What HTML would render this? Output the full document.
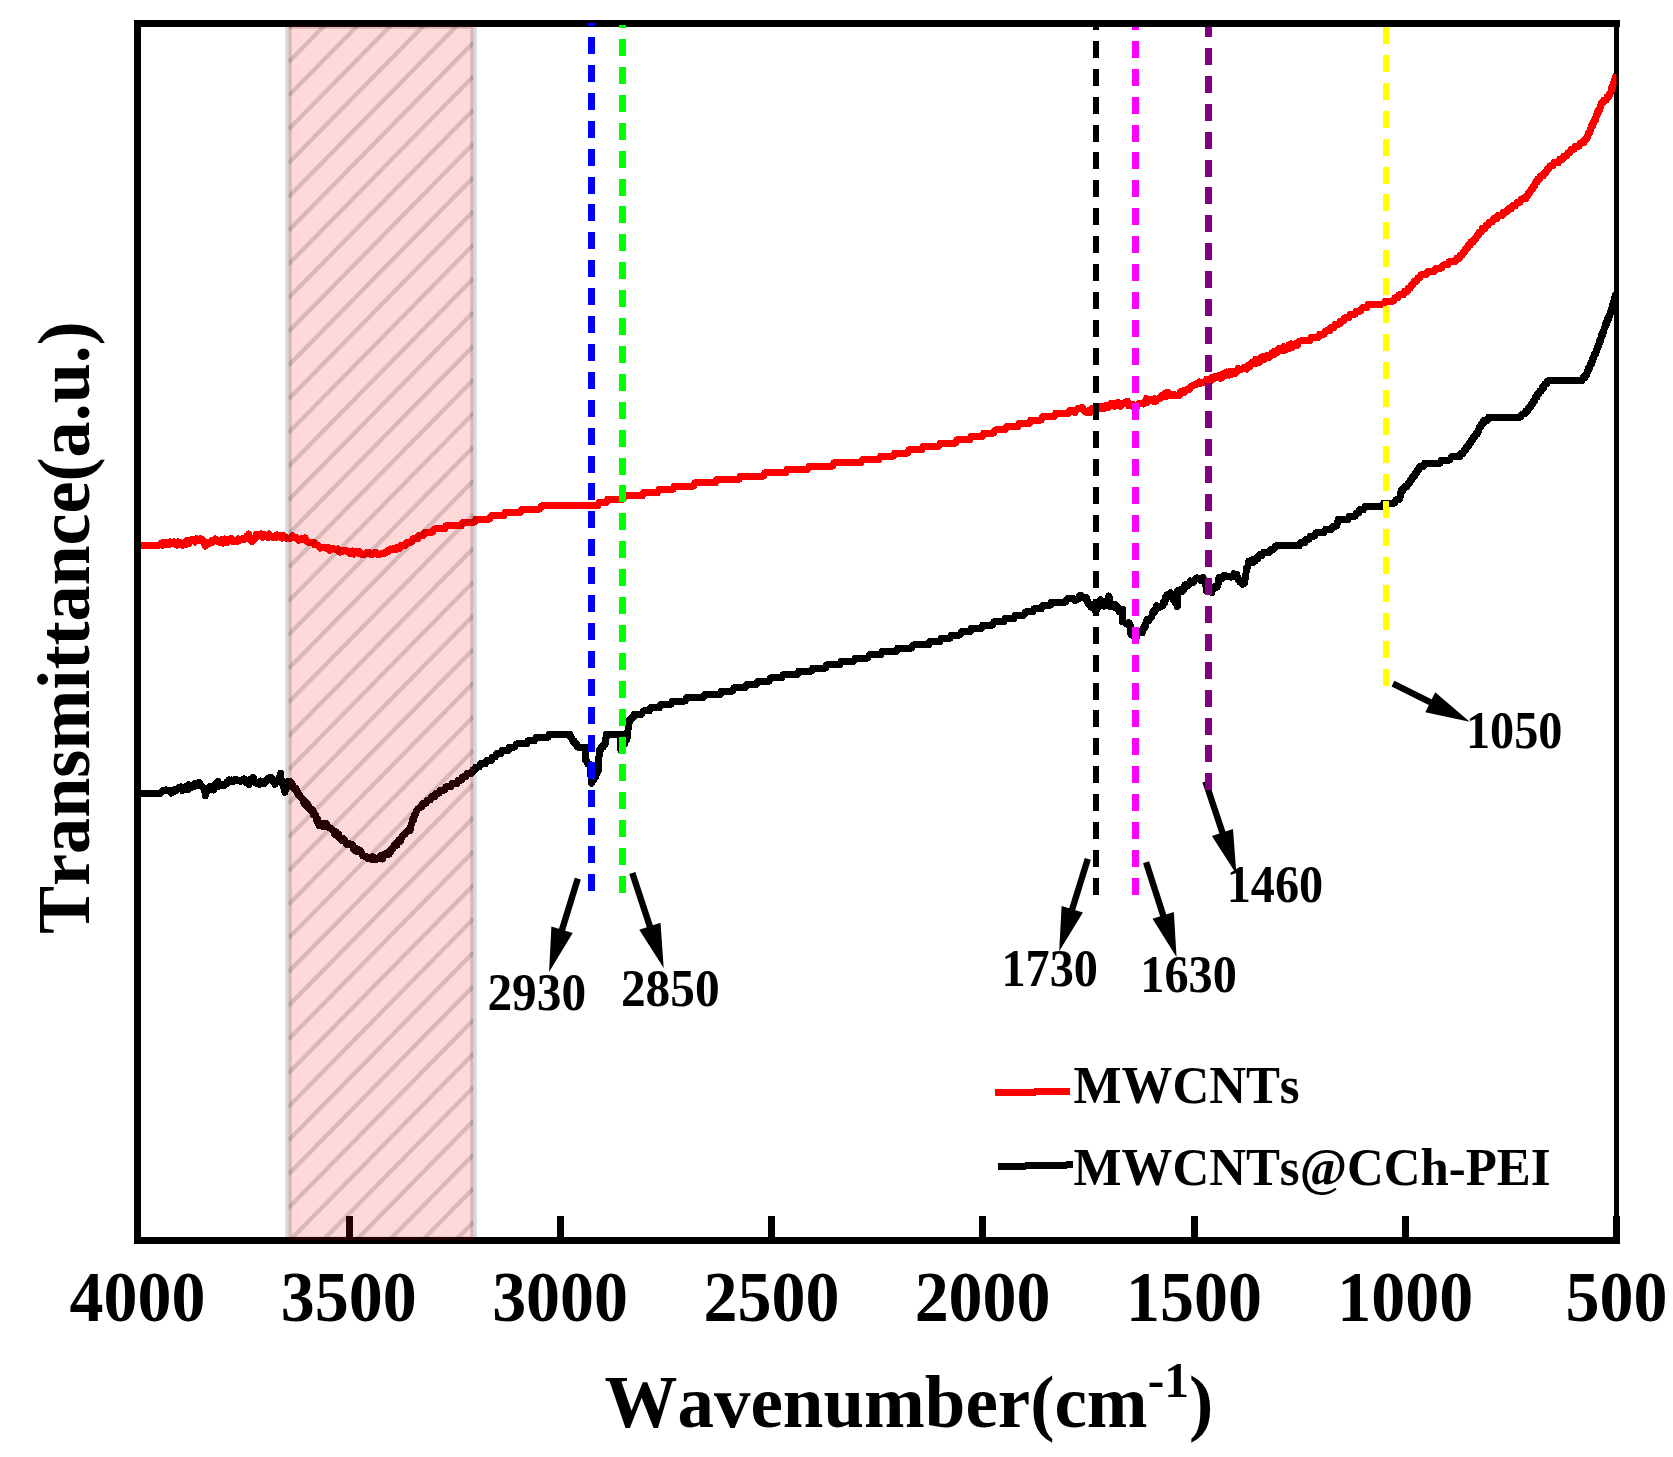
<!DOCTYPE html>
<html lang="en"><head><meta charset="utf-8"><title>FTIR spectra</title>
<style>html,body{margin:0;padding:0;background:#fff}svg{display:block}</style></head>
<body>
<svg width="1673" height="1457" viewBox="0 0 1673 1457">
<defs><clipPath id="plot"><rect x="141" y="27" width="1475.5" height="1210"/></clipPath><clipPath id="band"><rect x="288.5" y="25.5" width="185.0" height="1214.5"/></clipPath></defs>
<rect width="1673" height="1457" fill="#fff"/>
<g shape-rendering="crispEdges" fill="#000">
<rect x="134" y="20" width="1486" height="7"/>
<rect x="134" y="20" width="7" height="1224"/>
<rect x="134" y="1237" width="1486" height="7"/>
<rect x="1614" y="20" width="5" height="1224"/>
<rect x="134.0" y="1216" width="7" height="24"/>
<rect x="346.0" y="1216" width="7" height="24"/>
<rect x="557.0" y="1216" width="7" height="24"/>
<rect x="768.0" y="1216" width="7" height="24"/>
<rect x="979.0" y="1216" width="7" height="24"/>
<rect x="1190.5" y="1216" width="7" height="24"/>
<rect x="1402.0" y="1216" width="7" height="24"/>
<rect x="1613.0" y="1216" width="7" height="24"/>
</g>
<g clip-path="url(#plot)" fill="none" stroke-linejoin="round" stroke-linecap="butt" shape-rendering="crispEdges">
<polyline points="141.0,793.4 142.4,793.4 143.7,793.4 145.1,793.4 146.5,793.4 147.8,793.4 149.2,793.4 150.6,793.4 151.9,793.4 153.3,793.4 154.6,793.4 156.0,793.4 157.4,793.4 158.7,793.4 160.1,793.4 161.5,791.6 162.9,790.6 164.3,790.8 165.7,789.9 167.1,790.6 168.4,791.0 169.8,790.8 171.2,793.2 172.6,790.4 174.0,791.4 175.4,789.4 176.8,790.1 178.2,787.9 179.6,788.8 181.0,787.0 182.4,790.6 183.8,789.2 185.2,786.8 186.4,787.8 187.6,789.8 188.9,784.7 190.1,788.1 191.3,785.4 192.5,785.2 193.7,786.6 194.9,783.5 196.2,783.6 197.4,784.1 198.6,785.2 199.6,782.5 200.6,786.1 201.5,786.3 202.5,786.8 203.0,786.9 203.4,788.0 203.9,787.8 204.4,789.7 204.8,790.8 205.3,795.9 205.9,791.9 206.4,790.1 206.9,788.4 207.5,791.4 208.1,790.3 208.6,787.9 209.9,786.5 211.1,787.1 212.4,788.2 213.7,790.0 214.2,786.9 214.8,787.1 215.3,784.7 215.9,787.2 216.4,785.8 217.0,782.1 218.0,781.4 219.0,786.4 220.0,783.8 221.0,785.1 222.0,784.1 223.1,785.5 224.2,785.4 225.3,784.8 226.5,782.4 227.6,783.4 228.7,779.9 230.1,781.3 231.6,780.1 233.0,781.8 234.5,779.6 235.9,779.4 237.4,780.8 238.8,780.3 240.1,781.3 241.4,780.1 242.7,780.4 244.0,778.9 245.0,780.5 246.0,782.6 247.0,781.1 248.0,782.0 249.0,784.8 250.0,779.3 251.0,781.6 252.0,780.3 253.3,777.4 254.6,782.4 255.8,783.2 257.1,782.2 258.4,783.3 259.6,784.2 260.9,781.0 262.2,783.6 263.2,782.6 264.1,783.5 265.1,782.3 266.0,781.5 267.0,779.2 267.9,780.0 268.9,777.8 269.7,779.0 270.6,777.5 271.4,777.5 272.2,779.2 273.1,781.6 273.9,781.3 274.9,784.3 275.8,781.7 276.8,781.0 277.7,779.9 278.7,779.2 279.6,777.0 280.6,773.2 281.0,779.0 281.4,780.1 281.7,780.1 282.1,781.7 282.5,783.7 282.9,781.8 283.3,786.9 283.7,785.5 284.0,785.9 284.4,788.3 284.8,792.3 285.2,788.0 285.6,789.6 286.0,789.6 286.5,785.6 286.9,783.6 287.3,782.8 287.7,782.6 288.1,781.7 288.9,782.0 289.8,783.2 290.6,781.7 291.5,783.1 292.3,784.7 293.2,787.9 294.0,787.1 294.9,789.4 295.7,788.1 296.5,789.3 297.2,791.3 298.0,794.1 298.7,795.3 299.5,796.3 300.2,795.7 301.0,797.7 301.7,798.6 302.5,799.6 303.2,799.2 304.0,803.6 304.9,801.5 305.9,805.9 306.8,806.6 307.7,803.5 308.7,806.4 309.6,808.9 310.5,810.5 311.5,809.1 312.4,809.3 313.0,810.2 313.6,814.7 314.2,812.7 314.8,815.5 315.4,814.8 316.1,817.7 316.7,820.8 317.3,818.4 317.9,822.7 318.5,822.5 319.1,825.4 320.4,824.9 321.8,823.2 323.1,826.5 324.5,825.0 325.8,823.3 326.9,824.1 328.0,827.2 329.1,828.0 330.2,828.2 331.4,828.4 332.5,830.2 333.6,831.0 334.7,834.3 335.8,831.5 336.9,835.6 337.9,836.9 338.9,834.5 340.0,838.9 341.1,838.8 342.1,840.5 343.1,838.6 344.2,839.8 345.2,840.8 346.3,844.3 347.4,843.3 348.4,843.1 349.4,844.3 350.5,844.4 351.6,844.3 352.6,845.3 353.7,849.3 354.8,847.6 355.9,851.2 357.0,849.0 358.2,849.8 359.3,851.6 360.4,850.9 361.5,852.5 362.6,855.8 363.9,856.1 365.1,856.4 366.4,856.3 367.6,858.1 368.9,858.9 370.2,857.8 371.4,859.1 372.7,856.8 374.1,859.6 375.6,858.1 377.0,859.2 378.4,858.5 379.8,856.7 381.3,855.4 382.7,859.1 383.8,854.7 384.8,855.4 385.9,854.0 386.9,853.0 387.9,854.1 389.0,854.3 390.1,850.3 391.1,851.2 391.9,848.6 392.8,848.7 393.6,847.0 394.4,845.0 395.2,844.0 396.1,843.2 396.9,845.2 397.7,842.4 398.6,840.2 399.4,842.2 400.4,841.6 401.4,838.2 402.4,835.8 403.4,835.0 404.4,833.6 405.5,833.7 406.5,831.6 407.5,831.3 408.5,830.3 409.5,830.7 409.9,830.9 410.4,829.0 410.8,826.3 411.2,825.0 411.6,824.3 412.1,822.4 412.5,821.0 412.9,818.5 413.4,818.2 413.8,820.0 414.2,815.1 414.6,815.5 415.1,814.8 415.5,814.6 416.4,810.7 417.3,809.8 418.2,808.7 419.1,808.3 420.0,807.4 420.9,806.6 421.8,806.6 422.9,803.3 423.9,803.3 425.0,803.3 426.1,803.3 427.2,800.0 428.2,800.0 429.3,800.0 430.4,800.0 431.4,796.7 432.5,796.7 433.6,796.7 434.7,796.7 435.7,793.4 436.8,793.4 437.9,793.4 439.0,793.4 440.2,790.1 441.3,790.1 442.4,790.1 443.5,790.1 444.7,790.1 445.8,786.8 446.9,786.8 448.1,786.8 449.4,786.8 450.6,786.8 451.9,783.5 453.1,783.5 454.4,783.5 455.6,783.5 456.9,783.5 458.0,780.2 459.1,780.2 460.2,780.2 461.4,780.2 462.5,776.9 463.6,776.9 464.7,776.9 465.8,776.9 466.9,773.6 468.0,773.6 469.1,773.6 470.3,773.6 471.4,773.6 472.5,770.3 473.6,770.3 474.7,770.3 475.8,767.0 477.0,767.0 478.1,767.0 479.2,767.0 480.3,763.7 481.6,763.7 482.8,763.7 484.1,763.7 485.4,763.7 486.6,760.4 487.9,760.4 489.1,760.4 490.4,760.4 491.4,760.4 492.3,757.1 493.3,757.1 494.2,757.1 495.2,757.1 496.1,753.8 497.1,753.8 498.4,753.8 499.6,753.8 500.9,753.8 502.1,750.5 503.4,750.5 504.6,750.5 505.9,750.5 507.1,750.5 508.2,750.5 509.4,747.2 510.5,747.2 511.9,747.2 513.4,747.2 514.8,747.2 516.2,743.9 517.6,743.9 519.1,743.9 520.5,743.9 521.8,743.9 523.0,743.9 524.2,743.9 525.5,743.9 526.8,743.9 528.0,740.6 529.2,740.6 530.5,740.6 531.9,740.6 533.3,740.6 534.7,740.6 536.1,737.3 537.5,737.3 538.9,737.3 540.2,737.3 541.5,737.3 542.8,737.3 544.1,737.3 545.4,737.3 546.7,737.3 548.0,737.3 549.3,734.0 550.6,734.0 552.3,734.0 553.7,734.0 555.1,734.0 556.5,734.0 557.9,734.0 559.3,734.0 560.6,734.0 562.0,734.0 563.4,734.0 564.8,734.0 566.2,734.0 567.6,734.0 569.0,734.0 569.8,734.0 570.7,737.3 571.5,737.3 572.4,740.6 573.2,740.6 574.0,740.6 574.9,743.9 575.7,743.9 576.6,743.9 577.4,747.2 578.9,747.2 580.4,747.2 581.9,747.2 583.4,747.2 584.9,747.2 585.0,747.2 585.1,750.5 585.2,750.5 585.3,753.8 585.3,753.8 585.4,753.8 585.5,757.1 585.6,757.1 585.7,760.4 585.8,760.4 586.6,760.4 587.5,763.7 588.3,763.7 589.2,763.7 590.0,767.0 590.1,767.0 590.2,767.0 590.4,770.3 590.5,770.3 590.6,773.6 590.7,773.6 590.9,773.6 591.0,776.9 591.1,776.9 591.2,780.2 591.4,780.2 591.5,780.2 591.6,783.5 592.3,780.2 592.9,780.2 593.6,780.2 594.3,776.9 595.0,776.9 595.6,776.9 596.3,773.6 597.0,773.6 597.6,770.3 598.3,770.3 598.4,770.3 598.4,767.0 598.5,767.0 598.5,763.7 598.6,763.7 598.7,763.7 598.7,760.4 598.8,760.4 598.8,757.1 598.9,757.1 599.0,757.1 599.0,753.8 599.1,753.8 599.1,750.5 599.2,750.5 600.2,750.5 601.1,747.2 602.1,747.2 603.1,747.2 604.0,743.9 605.0,743.9 605.2,743.9 605.5,740.6 605.7,740.6 606.0,737.3 606.2,737.3 606.5,737.3 606.7,734.0 608.1,734.0 609.5,734.0 611.0,734.0 612.4,734.0 613.8,734.0 615.2,734.0 616.6,734.0 618.1,734.0 619.5,734.0 620.9,734.0 620.9,737.3 620.9,737.3 620.9,737.3 620.9,740.6 620.9,740.6 620.9,743.9 620.9,743.9 620.9,743.9 620.9,747.2 620.9,747.2 620.9,750.5 620.9,750.5 621.5,750.5 622.1,747.2 622.7,747.2 623.3,743.9 623.9,743.9 624.6,743.9 625.2,740.6 625.8,740.6 626.4,740.6 627.0,737.3 627.6,737.3 627.7,734.0 627.8,734.0 627.8,734.0 627.9,730.7 628.0,730.7 628.1,727.4 628.2,727.4 628.3,727.4 628.3,724.1 628.4,724.1 628.5,720.8 629.5,720.8 630.4,720.8 631.4,717.5 632.4,717.5 633.3,717.5 634.3,714.2 635.6,714.2 636.8,714.2 638.1,714.2 639.3,714.2 640.6,714.2 641.9,714.2 643.1,710.9 644.4,710.9 645.6,710.9 646.9,710.9 648.1,710.9 649.4,710.9 650.6,707.6 651.9,707.6 653.1,707.6 654.4,707.6 655.7,707.6 657.0,707.6 658.3,707.6 659.6,707.6 660.9,704.3 662.2,704.3 663.5,704.3 664.8,704.3 666.1,704.3 667.4,704.3 668.6,704.3 669.9,704.3 671.2,704.3 672.4,701.0 673.7,701.0 674.9,701.0 676.2,701.0 677.5,701.0 678.7,701.0 680.0,701.0 681.3,701.0 682.6,701.0 683.9,701.0 685.2,701.0 686.5,697.7 687.8,697.7 689.1,697.7 690.4,697.7 691.7,697.7 693.0,697.7 694.3,697.7 695.6,697.7 696.9,697.7 698.2,697.7 699.5,697.7 700.7,697.7 702.0,697.7 703.3,697.7 704.6,694.4 705.9,694.4 707.2,694.4 708.5,694.4 709.8,694.4 711.1,694.4 712.4,694.4 713.7,694.4 715.0,694.4 716.3,694.4 717.6,694.4 718.9,694.4 720.2,694.4 721.5,691.1 722.7,691.1 724.0,691.1 725.2,691.1 726.5,691.1 727.7,691.1 729.0,691.1 730.2,691.1 731.5,691.1 732.7,691.1 734.0,687.8 735.3,687.8 736.5,687.8 737.8,687.8 739.0,687.8 740.3,687.8 741.5,687.8 742.8,687.8 744.0,687.8 745.3,687.8 746.5,684.5 747.8,684.5 749.1,684.5 750.3,684.5 751.6,684.5 752.8,684.5 754.1,684.5 755.3,684.5 756.6,684.5 757.8,681.2 759.1,681.2 760.3,681.2 761.6,681.2 762.9,681.2 764.1,681.2 765.4,681.2 766.6,681.2 767.9,681.2 769.1,681.2 770.4,677.9 771.6,677.9 772.9,677.9 774.1,677.9 775.4,677.9 776.7,677.9 778.0,677.9 779.3,677.9 780.5,677.9 781.8,677.9 783.1,674.6 784.4,674.6 785.7,674.6 787.0,674.6 788.3,674.6 789.5,674.6 790.8,674.6 792.1,674.6 793.4,674.6 794.7,674.6 796.0,674.6 797.3,674.6 798.5,671.3 799.8,671.3 801.1,671.3 802.4,671.3 803.7,671.3 805.0,671.3 806.3,671.3 807.6,671.3 808.8,671.3 810.1,671.3 811.4,671.3 812.7,668.0 814.0,668.0 815.3,668.0 816.6,668.0 817.8,668.0 819.1,668.0 820.4,668.0 821.7,668.0 823.0,668.0 824.3,668.0 825.6,668.0 826.8,664.7 828.1,664.7 829.4,664.7 830.7,664.7 832.0,664.7 833.3,664.7 834.5,664.7 835.8,664.7 837.1,664.7 838.4,664.7 839.7,664.7 841.0,661.4 842.2,661.4 843.5,661.4 844.8,661.4 846.1,661.4 847.4,661.4 848.7,661.4 849.9,661.4 851.2,661.4 852.5,661.4 853.8,661.4 855.1,658.1 856.3,658.1 857.6,658.1 858.9,658.1 860.2,658.1 861.5,658.1 862.8,658.1 864.0,658.1 865.3,658.1 866.6,658.1 867.9,658.1 869.2,654.8 870.4,654.8 871.7,654.8 873.0,654.8 874.3,654.8 875.6,654.8 876.9,654.8 878.1,654.8 879.4,654.8 880.7,654.8 882.0,651.5 883.3,651.5 884.6,651.5 885.8,651.5 887.1,651.5 888.4,651.5 889.7,651.5 891.0,651.5 892.3,651.5 893.6,651.5 894.9,651.5 896.2,651.5 897.5,648.2 898.8,648.2 900.0,648.2 901.3,648.2 902.6,648.2 903.9,648.2 905.2,648.2 906.5,648.2 907.8,648.2 909.1,648.2 910.4,648.2 911.7,648.2 913.0,644.9 914.3,644.9 915.6,644.9 916.9,644.9 918.2,644.9 919.5,644.9 920.7,644.9 922.0,644.9 923.3,644.9 924.6,644.9 925.9,644.9 927.2,644.9 928.5,644.9 929.8,641.6 931.1,641.6 932.4,641.6 933.6,641.6 934.9,641.6 936.1,641.6 937.4,641.6 938.6,641.6 939.9,641.6 941.2,638.3 942.4,638.3 943.7,638.3 944.9,638.3 946.2,638.3 947.4,638.3 948.7,638.3 950.0,638.3 951.2,635.0 952.5,635.0 953.7,635.0 955.0,635.0 956.2,635.0 957.5,635.0 958.8,635.0 960.0,635.0 961.3,631.7 962.5,631.7 963.8,631.7 965.0,631.7 966.3,631.7 967.6,631.7 968.8,631.7 970.1,631.7 971.3,628.4 972.6,628.4 973.8,628.4 975.1,628.4 976.3,628.4 977.6,628.4 978.8,628.4 980.1,628.4 981.4,628.4 982.6,625.1 983.9,625.1 985.1,625.1 986.4,625.1 987.6,625.1 988.9,625.1 990.1,625.1 991.4,625.1 992.7,625.1 993.9,621.8 995.2,621.8 996.4,621.8 997.7,621.8 998.9,621.8 1000.2,621.8 1001.4,621.8 1002.7,621.8 1004.0,621.8 1005.2,618.5 1006.5,618.5 1007.7,618.5 1009.0,618.5 1010.2,618.5 1011.5,618.5 1012.7,618.5 1014.0,618.5 1015.2,615.2 1016.5,615.2 1017.8,615.2 1019.0,615.2 1020.3,615.2 1021.5,615.2 1022.8,615.2 1024.0,615.2 1025.3,611.9 1026.5,611.9 1027.8,611.9 1029.0,611.9 1030.3,611.9 1031.5,611.9 1032.8,611.9 1034.0,608.6 1035.3,608.6 1036.6,608.6 1037.8,608.6 1039.1,608.6 1040.3,608.6 1041.6,608.6 1042.8,605.3 1044.1,605.3 1045.3,605.3 1046.6,605.3 1047.8,605.3 1049.1,605.3 1050.3,605.3 1051.6,602.0 1052.8,602.0 1054.1,602.0 1055.4,602.0 1056.7,602.0 1058.0,602.0 1059.3,602.0 1060.6,602.0 1061.9,602.0 1063.2,602.0 1064.5,602.0 1065.9,602.0 1067.2,598.7 1068.5,598.7 1069.8,598.7 1071.1,598.7 1072.4,598.7 1073.7,598.7 1075.0,600.6 1076.5,599.8 1077.9,599.5 1079.4,595.4 1080.9,595.1 1082.3,597.8 1083.8,598.2 1084.6,597.4 1085.5,599.0 1086.3,597.5 1087.1,600.2 1088.0,603.6 1088.8,604.2 1089.8,605.4 1090.8,607.0 1091.8,604.9 1092.7,605.4 1093.7,606.6 1094.7,609.3 1095.7,611.1 1096.4,611.0 1097.1,608.8 1097.8,607.2 1098.6,606.4 1099.3,603.8 1100.0,603.0 1100.7,599.5 1101.8,603.7 1102.9,602.2 1104.0,606.2 1105.1,605.9 1105.7,603.2 1106.4,601.1 1107.0,600.4 1107.6,600.8 1108.3,599.8 1108.9,596.0 1109.2,597.3 1109.4,600.7 1109.7,602.4 1110.0,603.0 1110.3,603.7 1110.5,606.8 1110.8,605.6 1111.9,606.0 1113.0,605.7 1114.1,607.0 1115.2,604.6 1115.9,606.8 1116.7,606.2 1117.4,606.3 1118.2,607.4 1118.9,611.7 1120.8,610.9 1122.7,609.5 1122.7,609.6 1122.7,613.1 1122.7,615.2 1122.7,615.5 1122.7,616.2 1122.7,619.4 1122.7,621.9 1122.7,620.2 1122.7,620.8 1124.2,622.3 1125.7,623.0 1127.2,624.4 1128.7,622.5 1130.2,625.4 1130.3,626.6 1130.4,627.1 1130.6,627.2 1130.7,632.0 1130.8,630.6 1130.9,634.3 1132.0,632.6 1133.1,633.5 1134.1,636.8 1135.2,635.7 1136.3,637.7 1137.4,634.8 1138.5,632.6 1139.5,631.8 1140.6,631.8 1141.7,632.0 1142.8,632.4 1143.4,627.6 1144.0,627.4 1144.7,625.3 1145.3,627.4 1145.9,622.5 1146.5,620.9 1147.2,619.6 1147.8,619.8 1148.6,620.8 1149.5,619.5 1150.3,617.6 1151.1,617.5 1152.0,615.9 1152.8,612.0 1153.8,610.2 1154.7,612.2 1155.6,610.1 1156.6,605.7 1158.2,608.2 1159.8,606.6 1161.3,606.3 1162.9,605.8 1163.3,603.8 1163.7,601.8 1164.2,601.8 1164.6,600.8 1165.0,602.3 1165.4,597.3 1166.0,599.8 1166.6,595.2 1167.3,594.6 1167.9,595.4 1168.5,594.1 1169.5,593.5 1170.4,592.8 1171.3,595.7 1172.3,596.3 1173.2,599.8 1174.2,597.6 1174.8,599.7 1175.4,603.3 1176.1,600.7 1176.7,603.6 1177.3,606.7 1177.4,605.1 1177.4,600.5 1177.5,599.1 1177.5,597.9 1177.6,600.3 1177.6,596.0 1177.7,596.8 1177.7,596.1 1177.8,592.2 1177.8,590.6 1177.9,592.2 1179.5,590.7 1181.1,589.2 1182.6,591.2 1184.2,589.4 1184.5,587.6 1184.8,584.9 1185.2,586.6 1185.5,585.7 1187.0,584.2 1188.6,585.3 1190.2,580.9 1191.7,581.5 1192.5,581.3 1193.4,582.2 1194.2,580.9 1195.6,578.4 1197.1,577.8 1198.5,578.6 1200.0,578.9 1201.4,580.8 1202.9,577.5 1204.3,580.2 1204.6,581.4 1204.9,583.1 1205.2,584.3 1205.5,585.0 1205.9,585.2 1206.2,586.6 1206.5,588.2 1206.8,591.4 1208.5,588.8 1210.1,589.7 1211.8,592.6 1212.8,589.4 1213.8,587.5 1214.8,586.4 1215.8,587.7 1216.8,585.6 1217.2,587.3 1217.6,585.6 1218.0,584.8 1218.5,580.4 1218.9,578.3 1219.3,577.1 1220.6,578.3 1221.8,578.6 1223.1,576.8 1224.4,575.2 1225.8,575.9 1227.2,576.6 1228.6,576.7 1230.0,576.9 1231.3,577.2 1232.7,576.3 1234.1,573.7 1235.5,576.7 1236.9,574.2 1237.3,576.7 1237.7,577.1 1238.2,579.9 1238.6,578.8 1239.0,580.3 1239.4,581.6 1241.1,581.2 1242.8,584.4 1244.5,583.0 1244.7,580.6 1244.9,579.5 1245.0,580.7 1245.2,577.2 1245.4,574.7 1245.6,575.8 1245.8,573.8 1246.0,573.9 1246.1,568.6 1246.3,568.9 1246.5,569.0 1247.2,567.7 1247.8,566.7 1248.5,561.5 1249.7,561.8 1250.8,560.3 1252.0,559.9 1253.1,562.5 1254.3,560.1 1255.4,560.8 1256.5,557.6 1257.6,559.0 1258.7,556.3 1259.8,554.7 1260.9,555.8 1262.0,555.8 1263.3,552.5 1264.6,552.5 1265.8,552.5 1267.1,552.5 1268.4,552.5 1269.7,552.5 1270.8,549.2 1271.9,549.2 1273.0,549.2 1274.0,549.2 1275.1,545.9 1276.2,545.9 1277.5,545.9 1278.8,545.9 1280.1,545.9 1281.4,545.9 1282.7,545.9 1284.0,545.9 1285.3,545.9 1286.7,545.9 1288.0,545.9 1289.3,545.9 1290.6,545.9 1291.9,545.9 1293.2,545.9 1294.5,545.9 1295.8,545.9 1297.1,545.9 1298.2,545.9 1299.3,545.9 1300.4,542.6 1301.5,542.6 1302.6,542.6 1303.7,542.6 1304.8,542.6 1305.9,539.3 1307.0,539.3 1308.1,539.3 1309.2,539.3 1310.3,536.0 1311.4,536.0 1312.5,536.0 1313.6,536.0 1314.7,536.0 1315.8,532.7 1317.2,532.7 1318.5,532.7 1319.9,532.7 1321.3,532.7 1322.7,532.7 1324.0,532.7 1325.4,529.4 1326.8,529.4 1328.0,529.4 1329.2,529.4 1330.5,529.4 1331.7,529.4 1332.9,526.1 1334.1,526.1 1335.4,526.1 1336.6,526.1 1337.1,522.8 1337.7,522.8 1338.2,519.5 1338.8,519.5 1340.1,519.5 1341.4,519.5 1342.8,519.5 1344.1,519.5 1345.4,519.5 1346.7,519.5 1348.0,519.5 1349.4,516.2 1350.7,516.2 1352.0,516.2 1353.1,516.2 1354.2,516.2 1355.3,516.2 1356.4,512.9 1357.5,512.9 1358.6,512.9 1359.7,509.6 1360.8,509.6 1361.9,509.6 1363.6,509.6 1365.2,506.3 1366.6,506.3 1368.0,506.3 1369.3,506.3 1370.7,506.3 1372.1,506.3 1373.5,506.3 1374.8,506.3 1376.2,506.3 1377.6,506.3 1379.0,506.3 1380.3,506.3 1381.7,506.3 1382.4,506.3 1383.2,506.3 1383.9,503.0 1385.3,503.0 1386.7,503.0 1388.1,503.0 1389.5,503.0 1390.9,503.0 1392.3,503.0 1393.7,503.0 1394.8,503.0 1395.9,499.7 1397.0,499.7 1398.1,499.7 1399.2,499.7 1400.3,496.4 1400.5,496.4 1400.7,493.1 1401.0,493.1 1401.2,493.1 1401.4,489.8 1402.5,489.8 1403.6,489.8 1404.7,486.5 1405.8,486.5 1406.9,486.5 1408.0,483.2 1409.1,483.2 1409.8,483.2 1410.6,479.9 1411.3,479.9 1412.0,479.9 1412.8,476.6 1413.5,476.6 1414.2,476.6 1415.0,473.3 1415.7,473.3 1416.6,473.3 1417.5,470.0 1418.5,470.0 1419.4,466.7 1420.3,466.7 1421.7,466.7 1423.1,466.7 1424.5,463.4 1425.8,463.4 1427.1,463.4 1428.4,463.4 1429.7,463.4 1431.0,463.4 1432.4,463.4 1433.7,463.4 1435.0,463.4 1436.3,463.4 1437.6,463.4 1438.8,463.4 1439.9,463.4 1441.1,460.1 1442.2,460.1 1443.4,460.1 1444.7,460.1 1446.0,460.1 1447.3,460.1 1448.6,460.1 1449.9,460.1 1451.2,456.8 1452.6,456.8 1453.9,456.8 1455.2,456.8 1456.5,456.8 1457.8,456.8 1459.1,456.8 1459.9,456.8 1460.7,453.5 1461.5,453.5 1462.4,453.5 1463.2,453.5 1464.0,450.2 1464.8,450.2 1465.6,450.2 1466.5,446.9 1467.3,446.9 1468.1,446.9 1468.9,443.6 1469.7,443.6 1470.4,443.6 1471.2,440.3 1471.9,440.3 1472.7,440.3 1473.5,437.0 1474.2,437.0 1475.0,437.0 1475.8,433.7 1476.5,433.7 1477.3,433.7 1478.0,430.4 1478.8,430.4 1479.5,427.1 1480.2,427.1 1480.9,427.1 1481.7,423.8 1482.4,423.8 1483.1,423.8 1483.8,420.5 1485.0,420.5 1486.2,420.5 1487.5,420.5 1488.7,417.2 1489.9,417.2 1491.1,417.2 1492.4,417.2 1493.6,417.2 1495.0,417.2 1496.3,417.2 1497.7,417.2 1499.0,417.2 1500.4,417.2 1501.7,417.2 1503.1,417.2 1504.4,417.2 1505.8,417.2 1507.1,417.2 1508.5,417.2 1509.6,417.2 1510.7,417.2 1511.8,417.2 1513.1,417.2 1514.4,417.2 1515.6,417.2 1516.9,417.2 1518.2,417.2 1519.5,417.2 1520.7,417.2 1522.0,413.9 1523.3,413.9 1524.2,413.9 1525.1,413.9 1526.0,410.6 1526.9,410.6 1527.9,410.6 1528.8,407.3 1529.7,407.3 1530.6,407.3 1531.5,404.0 1532.2,404.0 1532.8,404.0 1533.5,400.7 1534.1,400.7 1534.8,400.7 1535.5,397.4 1536.1,397.4 1536.8,397.4 1537.4,394.1 1538.1,394.1 1538.9,394.1 1539.8,390.8 1540.6,390.8 1541.4,390.8 1542.2,387.5 1543.0,387.5 1543.9,387.5 1544.7,384.2 1545.7,384.2 1546.6,384.2 1547.6,380.9 1548.6,380.9 1549.5,380.9 1550.5,380.9 1551.8,380.9 1553.1,380.9 1554.5,380.9 1555.8,380.9 1557.1,380.9 1558.4,380.9 1559.8,380.9 1561.1,380.9 1562.4,380.9 1563.7,380.9 1565.0,380.9 1566.4,380.9 1567.7,380.9 1569.0,380.9 1570.3,380.9 1571.6,380.9 1573.0,380.9 1574.3,380.9 1575.6,380.9 1576.9,380.9 1578.3,380.9 1579.6,380.9 1580.9,380.9 1581.9,380.9 1582.9,377.6 1583.9,377.6 1584.9,377.6 1585.9,374.3 1586.4,374.3 1587.0,374.3 1587.5,371.0 1588.1,371.0 1588.6,367.7 1589.2,367.7 1589.7,367.7 1590.2,364.4 1590.8,364.4 1591.3,364.4 1591.9,361.1 1592.4,361.1 1592.9,357.8 1593.4,357.8 1593.9,357.8 1594.4,354.5 1594.9,354.5 1595.4,354.5 1596.0,351.2 1596.5,351.2 1597.0,347.9 1597.5,347.9 1598.0,347.9 1598.5,344.6 1599.0,344.6 1599.4,341.3 1599.9,341.3 1600.3,341.3 1600.8,338.0 1601.2,338.0 1601.6,334.7 1602.1,334.7 1602.5,334.7 1603.0,331.4 1603.4,331.4 1603.8,331.4 1604.3,328.1 1604.7,328.1 1605.2,324.8 1605.6,324.8 1606.2,324.8 1606.7,321.5 1607.3,321.5 1607.8,318.2 1608.4,318.2 1608.9,318.2 1609.5,314.9 1610.0,314.9 1610.6,311.6 1611.0,311.6 1611.3,311.6 1611.7,308.3 1612.1,308.3 1612.5,305.0 1612.8,305.0 1613.2,305.0 1613.6,301.7 1614.0,301.7 1614.3,298.4 1614.7,298.4 1615.3,295.1 1615.9,295.1 1616.5,294.0" stroke="#000" stroke-width="7"/>
<polyline points="141.0,545.4 142.4,545.4 143.7,545.4 145.1,545.4 146.5,545.4 147.8,545.4 149.2,545.4 150.6,545.4 151.9,545.4 153.3,545.4 154.6,545.4 156.0,545.4 157.4,545.4 158.7,545.4 160.1,544.1 161.4,543.1 162.7,545.4 164.0,542.6 165.3,544.7 166.6,543.8 167.9,542.2 169.2,544.3 170.5,541.9 171.8,543.7 173.1,541.9 174.4,541.9 175.7,543.4 177.0,545.2 178.3,541.8 179.6,542.2 180.9,544.0 182.2,545.4 183.5,543.6 184.8,542.4 186.1,544.9 187.4,540.1 188.7,543.7 190.0,540.7 191.3,539.7 192.5,539.3 193.8,539.9 195.1,542.0 196.4,538.7 197.7,540.3 199.0,540.3 200.3,538.7 201.3,540.7 202.3,539.6 203.3,540.7 204.3,542.6 205.3,546.1 206.5,544.1 207.7,542.9 208.9,543.5 210.1,542.1 211.3,540.7 212.5,542.3 213.7,541.2 215.1,539.0 216.4,540.7 217.8,540.5 219.2,542.3 220.5,541.7 221.9,539.6 223.2,543.0 224.6,538.9 226.0,540.5 227.3,542.2 228.7,539.3 230.0,540.8 231.4,538.4 232.7,541.3 234.1,541.6 235.4,540.5 236.7,541.8 238.1,538.9 239.4,540.6 240.8,539.9 242.1,539.7 243.3,538.2 244.5,539.3 245.6,538.9 246.8,535.8 248.0,535.9 248.8,534.0 249.7,538.1 250.5,538.9 251.4,541.5 252.2,541.7 253.2,538.3 254.2,538.0 255.2,538.5 256.2,534.5 257.2,535.8 258.5,534.4 259.8,534.2 261.2,533.9 262.5,537.3 263.8,534.2 265.1,534.8 266.4,535.5 267.8,537.8 269.1,534.0 270.4,535.8 271.7,536.2 273.1,537.8 274.4,537.5 275.7,537.7 277.0,534.9 278.3,535.6 279.7,535.3 281.0,537.8 282.3,538.2 283.4,535.4 284.5,536.6 285.6,538.0 287.0,537.8 288.5,538.8 289.9,539.0 291.4,537.2 292.8,535.8 294.3,537.5 295.7,537.1 297.0,538.3 298.4,540.4 299.7,539.3 301.1,538.7 302.4,539.3 303.8,539.7 305.1,538.0 306.3,541.3 307.5,541.5 308.7,542.4 309.9,542.8 311.1,542.1 312.3,542.7 313.5,542.3 314.6,544.9 315.7,543.9 316.9,544.7 318.0,546.0 319.1,546.7 320.2,548.1 321.5,547.2 322.9,547.2 324.2,547.7 325.6,547.6 326.9,548.6 328.2,547.6 329.6,550.4 330.9,549.6 332.3,548.2 333.6,548.6 334.9,549.2 336.3,549.5 337.6,548.9 338.9,551.5 340.2,552.2 341.6,550.8 342.9,551.1 344.2,550.1 345.6,550.4 346.9,551.4 348.3,551.3 349.7,553.2 351.1,551.2 352.5,550.9 353.9,554.1 355.3,552.8 356.7,551.8 358.1,553.2 359.5,551.7 360.9,553.4 362.3,555.0 363.7,554.8 365.1,554.2 366.4,552.7 367.8,553.0 369.1,552.3 370.5,554.2 371.8,553.4 373.2,554.1 374.5,552.7 375.9,552.3 377.3,554.1 378.6,554.6 380.0,554.1 381.3,553.9 382.7,553.9 384.0,553.6 385.4,551.9 386.7,552.3 388.0,551.2 389.3,549.6 390.6,549.0 392.0,549.3 393.3,548.6 394.6,549.4 395.9,549.7 397.2,547.5 398.4,548.6 399.6,548.2 400.8,545.4 402.0,545.4 403.2,545.4 404.5,545.4 405.7,545.4 406.9,542.1 408.1,542.1 409.3,542.1 410.5,542.1 411.7,542.1 412.9,538.8 414.0,538.8 415.2,538.8 416.4,538.8 417.6,538.8 418.8,535.5 419.9,535.5 421.1,535.5 422.3,535.5 423.6,535.5 424.9,532.2 426.2,532.2 427.5,532.2 428.8,532.2 430.1,532.2 431.4,532.2 432.7,532.2 434.0,528.9 435.3,528.9 436.7,528.9 438.0,528.9 439.4,528.9 440.7,528.9 442.0,528.9 443.4,528.9 444.7,528.9 446.1,525.6 447.4,525.6 448.7,525.6 450.0,525.6 451.3,525.6 452.5,525.6 453.8,525.6 455.1,525.6 456.4,525.6 457.7,525.6 459.0,525.6 460.2,525.6 461.5,525.6 462.8,522.3 464.1,522.3 465.4,522.3 466.7,522.3 468.0,522.3 469.2,522.3 470.5,522.3 471.8,522.3 473.1,522.3 474.4,522.3 475.7,519.0 476.9,519.0 478.2,519.0 479.5,519.0 480.8,519.0 482.1,519.0 483.4,519.0 484.7,519.0 486.0,519.0 487.3,519.0 488.6,519.0 489.8,519.0 491.1,515.7 492.4,515.7 493.7,515.7 495.0,515.7 496.3,515.7 497.6,515.7 498.9,515.7 500.2,515.7 501.5,515.7 502.7,515.7 504.0,515.7 505.3,512.4 506.6,512.4 507.9,512.4 509.2,512.4 510.4,512.4 511.7,512.4 513.0,512.4 514.3,512.4 515.6,512.4 516.9,512.4 518.2,512.4 519.4,512.4 520.7,512.4 522.0,509.1 523.3,509.1 524.6,509.1 525.9,509.1 527.1,509.1 528.4,509.1 529.7,509.1 531.0,509.1 532.3,509.1 533.6,509.1 534.9,509.1 536.1,509.1 537.4,509.1 538.7,509.1 540.0,509.1 541.3,505.8 542.7,505.8 544.0,505.8 545.4,505.8 546.7,505.8 548.0,505.8 549.4,505.8 550.7,505.8 552.1,505.8 553.4,505.8 554.7,505.8 556.1,505.8 557.4,505.8 558.8,505.8 560.1,505.8 561.5,505.8 562.8,505.8 564.1,505.8 565.5,505.8 566.8,505.8 568.2,505.8 569.5,505.8 570.8,505.8 572.2,505.8 573.5,505.8 574.9,505.8 576.2,505.8 577.6,505.8 578.9,505.8 580.3,505.8 581.7,505.8 583.0,505.8 584.4,505.8 585.8,505.8 587.1,505.8 588.5,505.8 589.9,505.8 591.2,505.8 592.6,505.8 593.9,505.8 595.1,505.8 596.4,505.8 597.6,505.8 598.9,502.5 600.2,502.5 601.4,502.5 602.7,502.5 604.0,502.5 605.2,502.5 606.5,502.5 607.7,499.2 609.0,499.2 610.3,499.2 611.6,499.2 612.9,499.2 614.1,499.2 615.4,499.2 616.7,499.2 618.0,499.2 619.3,499.2 620.6,499.2 621.9,499.2 623.2,499.2 624.4,495.9 625.7,495.9 627.0,495.9 628.3,495.9 629.6,495.9 630.9,495.9 632.2,495.9 633.5,495.9 634.7,495.9 636.0,495.9 637.3,495.9 638.6,495.9 639.9,495.9 641.1,495.9 642.4,495.9 643.7,492.6 645.0,492.6 646.2,492.6 647.5,492.6 648.8,492.6 650.1,492.6 651.3,492.6 652.6,492.6 653.9,492.6 655.2,492.6 656.4,492.6 657.7,492.6 659.0,489.3 660.3,489.3 661.5,489.3 662.8,489.3 664.1,489.3 665.4,489.3 666.6,489.3 667.9,489.3 669.2,489.3 670.5,489.3 671.7,489.3 673.0,489.3 674.3,486.0 675.6,486.0 676.8,486.0 678.1,486.0 679.4,486.0 680.7,486.0 682.0,486.0 683.3,486.0 684.6,486.0 685.9,486.0 687.2,486.0 688.5,486.0 689.7,486.0 691.0,486.0 692.3,486.0 693.6,486.0 694.9,482.7 696.2,482.7 697.5,482.7 698.8,482.7 700.1,482.7 701.4,482.7 702.7,482.7 704.0,482.7 705.3,482.7 706.6,482.7 707.9,482.7 709.2,482.7 710.4,482.7 711.7,482.7 713.0,482.7 714.3,482.7 715.6,482.7 716.9,479.4 718.2,479.4 719.5,479.4 720.8,479.4 722.1,479.4 723.4,479.4 724.7,479.4 726.0,479.4 727.3,479.4 728.6,479.4 729.9,479.4 731.2,479.4 732.5,479.4 733.8,479.4 735.1,479.4 736.4,479.4 737.7,479.4 739.0,479.4 740.3,476.1 741.6,476.1 742.9,476.1 744.2,476.1 745.5,476.1 746.7,476.1 748.0,476.1 749.3,476.1 750.6,476.1 751.9,476.1 753.2,476.1 754.5,476.1 755.8,476.1 757.1,476.1 758.4,476.1 759.7,476.1 761.0,476.1 762.3,476.1 763.6,476.1 764.9,472.8 766.2,472.8 767.5,472.8 768.8,472.8 770.1,472.8 771.4,472.8 772.7,472.8 774.0,472.8 775.3,472.8 776.6,472.8 777.9,472.8 779.2,472.8 780.5,472.8 781.8,472.8 783.1,472.8 784.4,472.8 785.7,472.8 787.0,469.5 788.3,469.5 789.6,469.5 790.9,469.5 792.2,469.5 793.5,469.5 794.8,469.5 796.0,469.5 797.3,469.5 798.6,469.5 799.9,469.5 801.2,469.5 802.5,469.5 803.8,469.5 805.1,469.5 806.4,469.5 807.7,469.5 809.0,466.2 810.3,466.2 811.6,466.2 812.9,466.2 814.2,466.2 815.5,466.2 816.8,466.2 818.1,466.2 819.4,466.2 820.7,466.2 822.0,466.2 823.3,466.2 824.6,466.2 825.9,466.2 827.2,466.2 828.5,466.2 829.8,466.2 831.1,466.2 832.4,466.2 833.7,462.9 835.0,462.9 836.3,462.9 837.6,462.9 838.9,462.9 840.2,462.9 841.5,462.9 842.8,462.9 844.0,462.9 845.3,462.9 846.6,462.9 847.9,462.9 849.2,462.9 850.5,462.9 851.8,462.9 853.1,462.9 854.4,462.9 855.7,462.9 857.0,462.9 858.3,462.9 859.6,462.9 860.9,462.9 862.2,459.6 863.5,459.6 864.8,459.6 866.1,459.6 867.4,459.6 868.7,459.6 870.0,459.6 871.3,459.6 872.6,459.6 873.9,459.6 875.2,459.6 876.5,459.6 877.8,459.6 879.1,459.6 880.4,456.3 881.7,456.3 883.0,456.3 884.3,456.3 885.6,456.3 886.9,456.3 888.2,456.3 889.5,456.3 890.8,456.3 892.1,456.3 893.4,456.3 894.6,453.0 895.9,453.0 897.2,453.0 898.5,453.0 899.8,453.0 901.1,453.0 902.4,453.0 903.7,453.0 905.0,453.0 906.3,453.0 907.6,453.0 908.9,449.7 910.2,449.7 911.5,449.7 912.8,449.7 914.1,449.7 915.4,449.7 916.7,449.7 918.0,449.7 919.3,449.7 920.6,449.7 921.9,449.7 923.2,446.4 924.5,446.4 925.8,446.4 927.1,446.4 928.4,446.4 929.7,446.4 931.0,446.4 932.3,446.4 933.6,446.4 934.9,446.4 936.2,446.4 937.5,446.4 938.8,446.4 940.1,443.1 941.4,443.1 942.6,443.1 943.9,443.1 945.2,443.1 946.5,443.1 947.8,443.1 949.1,443.1 950.4,443.1 951.7,443.1 953.0,443.1 954.3,443.1 955.6,443.1 956.9,439.8 958.2,439.8 959.5,439.8 960.8,439.8 962.1,439.8 963.4,439.8 964.7,439.8 966.0,439.8 967.3,439.8 968.6,439.8 969.8,439.8 971.1,436.5 972.4,436.5 973.6,436.5 974.9,436.5 976.1,436.5 977.4,436.5 978.7,436.5 979.9,436.5 981.2,436.5 982.5,436.5 983.7,433.2 985.0,433.2 986.3,433.2 987.5,433.2 988.8,433.2 990.1,433.2 991.3,433.2 992.6,433.2 993.8,433.2 995.1,429.9 996.4,429.9 997.6,429.9 998.9,429.9 1000.2,429.9 1001.4,429.9 1002.7,429.9 1004.0,429.9 1005.2,429.9 1006.5,426.6 1007.8,426.6 1009.0,426.6 1010.3,426.6 1011.5,426.6 1012.8,426.6 1014.1,426.6 1015.3,426.6 1016.6,426.6 1017.9,426.6 1019.2,423.3 1020.5,423.3 1021.8,423.3 1023.1,423.3 1024.4,423.3 1025.7,423.3 1026.9,423.3 1028.2,423.3 1029.5,423.3 1030.8,420.0 1032.1,420.0 1033.4,420.0 1034.7,420.0 1036.0,420.0 1037.3,420.0 1038.6,420.0 1039.9,420.0 1041.2,420.0 1042.5,416.7 1043.8,416.7 1045.0,416.7 1046.3,416.7 1047.6,416.7 1048.9,416.7 1050.2,416.7 1051.5,416.7 1052.8,416.7 1054.1,416.7 1055.4,413.4 1056.7,413.4 1058.0,413.4 1059.3,413.4 1060.6,413.4 1061.9,413.4 1063.2,413.4 1064.6,413.4 1065.9,413.4 1067.2,413.4 1068.5,413.4 1069.8,410.1 1071.1,410.1 1072.4,410.1 1073.7,410.1 1075.0,412.5 1076.5,409.4 1078.0,408.5 1079.5,408.3 1081.0,407.9 1082.5,407.7 1083.8,410.2 1085.0,412.0 1086.3,412.2 1087.5,411.0 1088.8,412.3 1090.0,412.6 1091.3,408.7 1092.5,410.9 1093.8,411.7 1095.0,410.6 1096.3,410.0 1097.5,408.2 1098.8,406.3 1100.1,408.9 1101.3,406.4 1102.6,408.3 1103.8,408.8 1105.1,405.7 1106.4,405.5 1107.6,407.8 1108.9,406.4 1110.4,403.5 1111.8,403.1 1113.3,403.0 1114.8,406.4 1116.2,405.8 1117.7,402.4 1119.1,405.6 1120.5,406.2 1121.9,404.6 1123.3,403.1 1124.6,403.9 1126.0,401.9 1127.4,401.2 1128.8,405.7 1130.2,404.1 1131.5,404.2 1132.7,406.7 1134.0,405.0 1135.5,407.0 1136.9,406.7 1138.4,403.6 1139.9,403.7 1141.3,403.8 1142.8,403.5 1143.7,404.0 1144.7,401.3 1145.6,401.0 1146.5,398.5 1147.9,402.1 1149.3,399.2 1150.7,399.5 1152.1,399.9 1153.5,401.3 1154.8,398.8 1156.2,401.0 1157.6,398.8 1159.0,398.7 1160.4,398.5 1161.7,395.4 1162.9,396.6 1164.2,394.7 1165.4,393.1 1166.7,396.2 1167.9,392.4 1169.5,394.2 1171.1,395.7 1172.6,395.2 1174.2,394.5 1176.1,395.4 1177.9,395.6 1179.0,395.9 1180.1,392.0 1181.2,393.4 1182.2,391.2 1183.3,390.6 1184.4,392.2 1185.5,390.2 1186.7,389.6 1188.0,389.7 1189.2,389.6 1190.5,386.5 1191.7,386.4 1193.0,385.3 1194.2,384.7 1195.5,384.9 1196.7,383.2 1198.0,382.9 1199.2,382.0 1200.5,383.6 1202.0,382.2 1203.5,382.8 1205.0,382.8 1206.5,379.3 1208.0,380.5 1209.3,382.0 1210.5,381.2 1211.8,377.5 1213.0,377.1 1214.3,378.4 1215.6,376.3 1216.8,376.8 1218.1,375.7 1219.3,378.0 1220.6,378.0 1221.8,378.0 1223.1,373.8 1224.3,376.0 1225.6,375.2 1226.8,372.1 1228.1,375.1 1229.4,375.2 1230.6,371.2 1231.9,374.3 1233.2,371.3 1234.4,371.3 1235.7,373.3 1236.9,372.2 1238.2,368.6 1239.6,369.5 1241.1,369.6 1242.5,368.4 1243.9,367.3 1245.3,367.5 1246.8,369.1 1248.2,365.4 1249.3,367.1 1250.3,365.6 1251.4,362.7 1252.5,363.3 1253.6,363.8 1254.6,362.4 1255.7,359.3 1257.0,363.3 1258.2,361.8 1259.5,362.2 1260.8,357.6 1262.0,357.9 1263.3,356.3 1264.5,359.4 1265.8,356.5 1267.0,355.1 1268.3,355.8 1269.5,357.5 1270.8,356.3 1272.0,352.9 1273.3,351.7 1274.5,354.7 1275.8,352.3 1277.1,352.4 1278.4,348.9 1279.7,348.2 1281.1,350.7 1282.4,348.9 1283.7,346.7 1285.0,350.3 1286.2,348.4 1287.5,348.7 1288.7,344.9 1290.0,348.1 1291.2,343.9 1292.4,347.2 1293.7,344.8 1294.9,343.8 1296.2,344.4 1297.4,345.7 1298.6,342.1 1299.9,341.0 1301.1,340.8 1302.4,340.8 1303.6,340.8 1304.8,340.8 1306.1,340.8 1307.3,340.8 1308.6,340.8 1309.8,340.8 1311.0,337.5 1312.3,337.5 1313.5,337.5 1314.8,337.5 1316.0,337.5 1317.2,337.5 1318.5,337.5 1319.7,334.2 1321.0,334.2 1322.2,334.2 1323.3,334.2 1324.3,334.2 1325.4,330.9 1326.5,330.9 1327.6,330.9 1328.6,330.9 1329.7,330.9 1330.8,327.6 1331.8,327.6 1332.9,327.6 1334.0,327.6 1335.1,324.3 1336.1,324.3 1337.2,324.3 1338.3,324.3 1339.4,324.3 1340.4,321.0 1341.5,321.0 1342.6,321.0 1343.6,321.0 1344.7,317.7 1345.8,317.7 1346.9,317.7 1347.9,317.7 1349.0,317.7 1350.2,314.4 1351.4,314.4 1352.6,314.4 1353.8,314.4 1355.0,314.4 1356.2,311.1 1357.4,311.1 1358.6,311.1 1359.7,311.1 1360.9,311.1 1362.1,307.8 1363.3,307.8 1364.5,307.8 1365.7,307.8 1366.9,307.8 1368.1,304.5 1369.3,304.5 1370.6,304.5 1372.0,304.5 1373.3,304.5 1374.7,304.5 1376.0,304.5 1377.3,304.5 1378.7,304.5 1380.0,304.5 1381.3,304.5 1382.6,304.5 1383.9,304.5 1385.2,301.2 1386.4,301.2 1387.7,301.2 1389.0,301.2 1390.3,301.2 1391.4,301.2 1392.5,301.2 1393.6,301.2 1394.7,297.9 1395.8,297.9 1396.9,297.9 1398.0,297.9 1399.1,294.6 1400.2,294.6 1401.3,294.6 1402.4,294.6 1403.5,294.6 1404.6,291.3 1405.7,291.3 1406.6,291.3 1407.5,291.3 1408.5,288.0 1409.4,288.0 1410.3,288.0 1411.2,284.7 1412.1,284.7 1413.1,284.7 1414.0,281.4 1414.9,281.4 1415.8,281.4 1416.7,281.4 1417.7,278.1 1418.6,278.1 1419.5,278.1 1420.9,274.8 1422.2,274.8 1423.6,274.8 1424.9,274.8 1426.3,274.8 1427.5,271.5 1428.7,271.5 1429.9,271.5 1431.1,271.5 1432.3,271.5 1433.5,271.5 1434.6,271.5 1435.8,268.2 1437.0,268.2 1438.2,268.2 1439.4,268.2 1440.6,268.2 1441.8,268.2 1443.0,264.9 1444.2,264.9 1445.5,264.9 1446.7,264.9 1447.9,264.9 1449.1,261.6 1450.3,261.6 1451.6,261.6 1452.8,261.6 1454.0,261.6 1455.2,261.6 1456.5,258.3 1457.7,258.3 1458.9,258.3 1459.8,258.3 1460.6,255.0 1461.5,255.0 1462.3,255.0 1463.2,251.7 1464.1,251.7 1464.9,251.7 1465.8,248.4 1466.6,248.4 1467.5,248.4 1468.3,245.1 1469.2,245.1 1470.1,245.1 1470.9,241.8 1471.8,241.8 1472.7,241.8 1473.5,241.8 1474.4,238.5 1475.2,238.5 1476.1,238.5 1477.0,235.2 1477.8,235.2 1478.7,235.2 1479.5,231.9 1480.4,231.9 1481.3,231.9 1482.1,228.6 1483.0,228.6 1484.0,228.6 1485.0,228.6 1486.1,225.3 1487.1,225.3 1488.1,225.3 1489.1,222.0 1490.1,222.0 1491.2,222.0 1492.2,222.0 1493.2,218.7 1494.4,218.7 1495.5,218.7 1496.7,218.7 1497.8,215.4 1499.0,215.4 1500.1,215.4 1501.2,215.4 1502.4,215.4 1503.5,212.1 1504.7,212.1 1505.8,212.1 1507.0,212.1 1508.1,208.8 1509.2,208.8 1510.3,208.8 1511.4,208.8 1512.5,205.5 1513.6,205.5 1514.7,205.5 1515.8,205.5 1517.0,202.2 1518.1,202.2 1519.2,202.2 1520.3,202.2 1521.4,198.9 1522.5,198.9 1523.6,198.9 1524.7,198.9 1525.8,198.9 1526.6,195.6 1527.3,195.6 1528.1,195.6 1528.8,192.3 1529.6,192.3 1530.3,192.3 1531.1,189.0 1531.8,189.0 1532.6,189.0 1533.4,185.7 1534.1,185.7 1534.9,185.7 1535.6,182.4 1536.4,182.4 1537.1,182.4 1537.9,179.1 1538.8,179.1 1539.7,179.1 1540.6,175.8 1541.6,175.8 1542.5,175.8 1543.4,175.8 1544.3,172.5 1545.2,172.5 1546.1,172.5 1547.0,169.2 1547.9,169.2 1548.9,169.2 1549.8,165.9 1550.7,165.9 1551.6,165.9 1552.7,165.9 1553.9,162.6 1555.0,162.6 1556.2,162.6 1557.3,162.6 1558.5,162.6 1559.6,159.3 1560.8,159.3 1561.9,159.3 1562.9,159.3 1563.9,156.0 1564.9,156.0 1565.9,156.0 1566.9,156.0 1567.9,152.7 1568.9,152.7 1569.9,152.7 1570.9,149.4 1571.9,149.4 1572.9,149.4 1573.9,149.4 1575.0,146.1 1576.1,146.1 1577.2,146.1 1578.3,146.1 1579.4,146.1 1580.4,142.8 1581.5,142.8 1582.6,142.8 1583.7,142.8 1584.8,139.5 1585.9,139.5 1586.4,139.5 1587.0,136.2 1587.5,136.2 1588.0,136.2 1588.6,132.9 1589.1,132.9 1589.6,132.9 1590.1,129.6 1590.7,129.6 1591.2,126.3 1591.7,126.3 1592.3,126.3 1592.8,123.0 1593.3,123.0 1593.9,123.0 1594.4,119.7 1594.9,119.7 1595.5,119.7 1596.0,116.4 1596.5,116.4 1597.0,113.1 1597.6,113.1 1598.1,113.1 1598.6,109.8 1599.2,109.8 1599.7,109.8 1600.2,106.5 1600.8,106.5 1601.3,103.2 1602.2,103.2 1603.0,103.2 1603.9,99.9 1604.7,99.9 1605.6,99.9 1606.5,99.9 1607.3,96.6 1608.2,96.6 1609.0,96.6 1609.9,93.3 1610.3,93.3 1610.7,93.3 1611.2,90.0 1611.6,90.0 1612.0,86.7 1612.4,86.7 1612.9,86.7 1613.3,83.4 1613.7,83.4 1614.1,80.1 1614.6,80.1 1615.0,80.1 1615.4,76.8 1616.5,75.0" stroke="#f00" stroke-width="7"/>
</g>
<rect x="288.5" y="25.5" width="185.0" height="1214.5" fill="rgba(255,0,0,0.15)"/>
<g clip-path="url(#band)" stroke="rgba(0,0,0,0.15)" stroke-width="4.4" fill="none">
<line x1="288.5" y1="28.4" x2="473.5" y2="-159.7"/>
<line x1="288.5" y1="62.1" x2="473.5" y2="-126.0"/>
<line x1="288.5" y1="95.8" x2="473.5" y2="-92.3"/>
<line x1="288.5" y1="129.5" x2="473.5" y2="-58.6"/>
<line x1="288.5" y1="163.2" x2="473.5" y2="-24.9"/>
<line x1="288.5" y1="196.9" x2="473.5" y2="8.8"/>
<line x1="288.5" y1="230.6" x2="473.5" y2="42.5"/>
<line x1="288.5" y1="264.3" x2="473.5" y2="76.2"/>
<line x1="288.5" y1="298.0" x2="473.5" y2="109.9"/>
<line x1="288.5" y1="331.7" x2="473.5" y2="143.6"/>
<line x1="288.5" y1="365.4" x2="473.5" y2="177.3"/>
<line x1="288.5" y1="399.1" x2="473.5" y2="211.0"/>
<line x1="288.5" y1="432.8" x2="473.5" y2="244.7"/>
<line x1="288.5" y1="466.5" x2="473.5" y2="278.4"/>
<line x1="288.5" y1="500.2" x2="473.5" y2="312.1"/>
<line x1="288.5" y1="533.9" x2="473.5" y2="345.8"/>
<line x1="288.5" y1="567.6" x2="473.5" y2="379.5"/>
<line x1="288.5" y1="601.3" x2="473.5" y2="413.2"/>
<line x1="288.5" y1="635.0" x2="473.5" y2="446.9"/>
<line x1="288.5" y1="668.7" x2="473.5" y2="480.6"/>
<line x1="288.5" y1="702.4" x2="473.5" y2="514.3"/>
<line x1="288.5" y1="736.1" x2="473.5" y2="548.0"/>
<line x1="288.5" y1="769.8" x2="473.5" y2="581.7"/>
<line x1="288.5" y1="803.5" x2="473.5" y2="615.4"/>
<line x1="288.5" y1="837.2" x2="473.5" y2="649.1"/>
<line x1="288.5" y1="870.9" x2="473.5" y2="682.8"/>
<line x1="288.5" y1="904.6" x2="473.5" y2="716.5"/>
<line x1="288.5" y1="938.3" x2="473.5" y2="750.2"/>
<line x1="288.5" y1="972.0" x2="473.5" y2="783.9"/>
<line x1="288.5" y1="1005.7" x2="473.5" y2="817.6"/>
<line x1="288.5" y1="1039.4" x2="473.5" y2="851.3"/>
<line x1="288.5" y1="1073.1" x2="473.5" y2="885.0"/>
<line x1="288.5" y1="1106.8" x2="473.5" y2="918.7"/>
<line x1="288.5" y1="1140.5" x2="473.5" y2="952.4"/>
<line x1="288.5" y1="1174.2" x2="473.5" y2="986.1"/>
<line x1="288.5" y1="1207.9" x2="473.5" y2="1019.8"/>
<line x1="288.5" y1="1241.6" x2="473.5" y2="1053.5"/>
<line x1="288.5" y1="1275.3" x2="473.5" y2="1087.2"/>
<line x1="288.5" y1="1309.0" x2="473.5" y2="1120.9"/>
<line x1="288.5" y1="1342.7" x2="473.5" y2="1154.6"/>
<line x1="288.5" y1="1376.4" x2="473.5" y2="1188.3"/>
<line x1="288.5" y1="1410.1" x2="473.5" y2="1222.0"/>
</g>
<rect x="288.5" y="25.5" width="185.0" height="1214.5" fill="none" stroke="rgba(0,0,0,0.15)" stroke-width="6.6"/>
<g>
<line x1="577.8" y1="878.6" x2="561.4" y2="931.8" stroke="#000" stroke-width="6.4"/><polygon points="549.1,971.9 551.4,926.6 572.7,933.1" fill="#000"/>
<line x1="632.3" y1="872.9" x2="650.5" y2="928.2" stroke="#000" stroke-width="6.4"/><polygon points="663.7,968.1 639.3,929.8 660.5,922.8" fill="#000"/>
<line x1="1087.8" y1="858.9" x2="1071.6" y2="911.1" stroke="#000" stroke-width="6.4"/><polygon points="1059.2,951.2 1061.6,905.9 1082.9,912.5" fill="#000"/>
<line x1="1146.1" y1="862.2" x2="1163.8" y2="917.3" stroke="#000" stroke-width="6.4"/><polygon points="1176.6,957.3 1152.5,918.8 1173.8,912.0" fill="#000"/>
<line x1="1205.4" y1="781.5" x2="1223.1" y2="834.5" stroke="#000" stroke-width="6.4"/><polygon points="1236.4,874.3 1211.9,836.1 1233.0,829.0" fill="#000"/>
<line x1="1393.0" y1="683.7" x2="1432.1" y2="703.1" stroke="#000" stroke-width="6.4"/><polygon points="1469.7,721.7 1425.3,712.2 1435.2,692.2" fill="#000"/>
</g>
<g shape-rendering="crispEdges">
<rect x="995" y="1089" width="41" height="7" fill="#f00"/><rect x="1034" y="1088" width="36" height="7" fill="#f00"/>
<rect x="998" y="1163" width="28" height="7" fill="#000"/><rect x="1025" y="1162" width="42" height="7" fill="#000"/><rect x="1066" y="1161" width="7" height="7" fill="#000"/>
</g>
<g shape-rendering="crispEdges">
<line x1="1096" y1="894.8" x2="1096" y2="27" stroke="#000" stroke-width="6" stroke-dasharray="17 10.9"/>
<line x1="591.5" y1="891" x2="591.5" y2="23" stroke="#0000ff" stroke-width="7" stroke-dasharray="17 10.9"/>
<line x1="622.5" y1="893" x2="622.5" y2="25" stroke="#00ff00" stroke-width="7" stroke-dasharray="17 10.9"/>
<line x1="1135.5" y1="894.8" x2="1135.5" y2="27" stroke="#ff00ff" stroke-width="7" stroke-dasharray="17 10.9"/>
<line x1="1208.5" y1="790.3" x2="1208.5" y2="27" stroke="#800080" stroke-width="7" stroke-dasharray="17 10.9"/>
<line x1="1386" y1="685.8" x2="1386" y2="27" stroke="#ffff00" stroke-width="6" stroke-dasharray="17 10.9"/>
</g>
<g font-family="'Liberation Serif', 'Times New Roman', serif" font-weight="bold" fill="#000" style="font-kerning:none">
<text transform="translate(137.5,1321.2) scale(0.948,1)" font-size="71.7" text-anchor="middle">4000</text>
<text transform="translate(348.8,1321.2) scale(0.948,1)" font-size="71.7" text-anchor="middle">3500</text>
<text transform="translate(560.1,1321.2) scale(0.948,1)" font-size="71.7" text-anchor="middle">3000</text>
<text transform="translate(771.4,1321.2) scale(0.948,1)" font-size="71.7" text-anchor="middle">2500</text>
<text transform="translate(982.6,1321.2) scale(0.948,1)" font-size="71.7" text-anchor="middle">2000</text>
<text transform="translate(1193.9,1321.2) scale(0.948,1)" font-size="71.7" text-anchor="middle">1500</text>
<text transform="translate(1405.2,1321.2) scale(0.948,1)" font-size="71.7" text-anchor="middle">1000</text>
<text transform="translate(1616.5,1321.2) scale(0.948,1)" font-size="71.7" text-anchor="middle">500</text>
<text transform="translate(487.4,1010.0) scale(0.95,1)" font-size="52" text-anchor="start">2930</text>
<text transform="translate(620.9,1006.3) scale(0.95,1)" font-size="52" text-anchor="start">2850</text>
<text transform="translate(1001.5,985.5) scale(0.928,1)" font-size="52" text-anchor="start">1730</text>
<text transform="translate(1140.3,991.8) scale(0.928,1)" font-size="52" text-anchor="start">1630</text>
<text transform="translate(1226.7,902.4) scale(0.928,1)" font-size="52" text-anchor="start">1460</text>
<text transform="translate(1465.9,747.8) scale(0.928,1)" font-size="52" text-anchor="start">1050</text>
<text transform="translate(1073.5,1103.0) scale(0.975,1)" font-size="52.2" text-anchor="start">MWCNTs</text>
<text transform="translate(1073.5,1185.3) scale(0.975,1)" font-size="52.2" text-anchor="start">MWCNTs@CCh-PEI</text>
<text transform="translate(604.5,1427.4) scale(0.993,1)" font-size="73.5" text-anchor="start">Wavenumber(cm<tspan font-size="50" dy="-30">-1</tspan><tspan dy="30">)</tspan></text>
<text transform="translate(88.7,934) rotate(-90) scale(0.988,1)" font-size="73">Transmittance(a.u.)</text>
</g>
</svg>
</body></html>
